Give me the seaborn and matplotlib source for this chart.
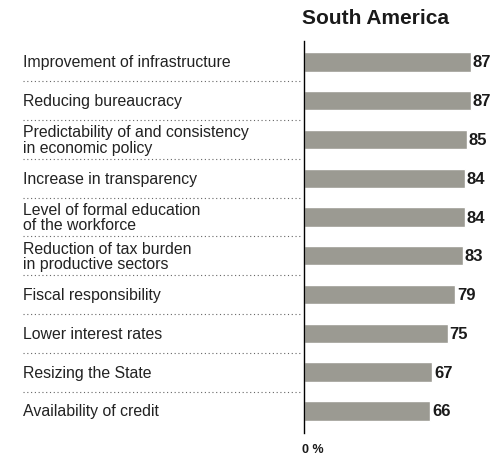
import matplotlib
matplotlib.use("Agg")
import matplotlib.pyplot as plt
import matplotlib.transforms as mtransforms
import seaborn as sns
import pandas as pd

categories = [
    "Improvement of infrastructure",
    "Reducing bureaucracy",
    "Predictability of and consistency\nin economic policy",
    "Increase in transparency",
    "Level of formal education\nof the workforce",
    "Reduction of tax burden\nin productive sectors",
    "Fiscal responsibility",
    "Lower interest rates",
    "Resizing the State",
    "Availability of credit",
]
values = [87, 87, 85, 84, 84, 83, 79, 75, 67, 66]
title = "South America"
axis_label = "0 %"

df = pd.DataFrame({"item": categories, "share": values})

sns.set_theme(style="white")
plt.rcParams["font.family"] = ["Liberation Sans", "DejaVu Sans"]

W, H = 493, 456
fig = plt.figure(figsize=(W / 100, H / 100), dpi=100)
ax = fig.add_axes([304 / W, 1 - 434 / H, (486 - 304) / W, (434 - 42) / H])

sns.barplot(data=df, x="share", y="item", orient="h", color="#9b9a92",
            saturation=1, width=0.5, ax=ax)

ax.set_xlim(0, 95)
ax.set_ylim(len(categories) - 1 + 0.57, -0.54)
ax.set_xlabel("")
ax.set_ylabel("")
ax.set_xticks([])
ax.set_yticks([])
for side in ["top", "right", "bottom"]:
    ax.spines[side].set_visible(False)
ax.spines["left"].set_color("black")
ax.spines["left"].set_linewidth(1.0)
ax.set_facecolor("none")

# value labels at the end of each bar
for i, v in enumerate(values):
    ax.text(v + 0.9, i, f"{v}", va="center", ha="left",
            fontsize=12, fontweight="bold", color="#1a1a1a")

# category labels and dotted separators on the left
trans = mtransforms.blended_transform_factory(fig.transFigure, ax.transData)
for i, name in enumerate(categories):
    fig.text(23 / W, i, name, transform=trans, va="center", ha="left",
             fontsize=11.4, color="#222222", linespacing=1.05)
for i in range(len(categories) - 1):
    ax.plot([23 / W, 302 / W], [i + 0.5, i + 0.5], transform=trans,
            linestyle=(0, (1, 2.4)), color="#666666", linewidth=0.8,
            clip_on=False)

fig.text(376 / W, 1 - 18 / H, title, ha="center", va="center",
         fontsize=15, fontweight="bold", color="#1a1a1a")
fig.text(302 / W, 1 - 450 / H, axis_label, ha="left", va="center",
         fontsize=9, fontweight="bold", color="#1a1a1a")

fig.savefig("out.png", dpi=100, facecolor="white")
